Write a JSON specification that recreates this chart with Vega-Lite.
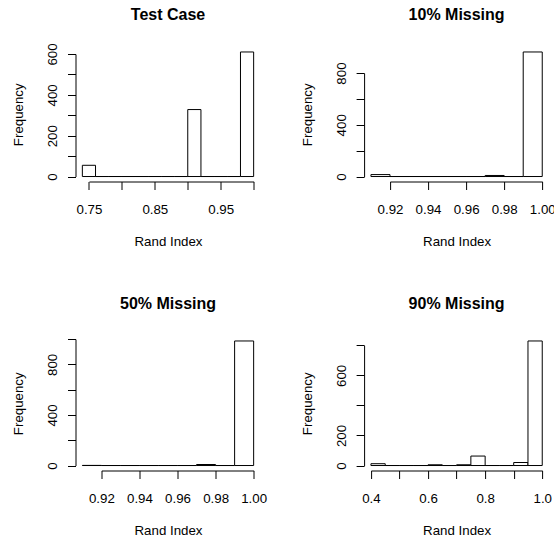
{
  "$schema": "https://vega.github.io/schema/vega-lite/v6.json",
  "background": "white",
  "autosize": {"type": "none"},
  "padding": {"left": 75.5, "top": 47, "right": 478.5, "bottom": 497},
  "datasets": {
    "hist": [
      {"panel": "Test Case", "start": 0.74, "end": 0.76, "count": 55},
      {"panel": "Test Case", "start": 0.76, "end": 0.78, "count": 0},
      {"panel": "Test Case", "start": 0.78, "end": 0.80, "count": 0},
      {"panel": "Test Case", "start": 0.80, "end": 0.82, "count": 0},
      {"panel": "Test Case", "start": 0.82, "end": 0.84, "count": 0},
      {"panel": "Test Case", "start": 0.84, "end": 0.86, "count": 0},
      {"panel": "Test Case", "start": 0.86, "end": 0.88, "count": 0},
      {"panel": "Test Case", "start": 0.88, "end": 0.90, "count": 0},
      {"panel": "Test Case", "start": 0.90, "end": 0.92, "count": 328},
      {"panel": "Test Case", "start": 0.92, "end": 0.94, "count": 0},
      {"panel": "Test Case", "start": 0.94, "end": 0.96, "count": 0},
      {"panel": "Test Case", "start": 0.96, "end": 0.98, "count": 0},
      {"panel": "Test Case", "start": 0.98, "end": 1.00, "count": 610},
      {"panel": "10% Missing", "start": 0.91, "end": 0.92, "count": 15},
      {"panel": "10% Missing", "start": 0.92, "end": 0.93, "count": 0},
      {"panel": "10% Missing", "start": 0.93, "end": 0.94, "count": 0},
      {"panel": "10% Missing", "start": 0.94, "end": 0.95, "count": 0},
      {"panel": "10% Missing", "start": 0.95, "end": 0.96, "count": 0},
      {"panel": "10% Missing", "start": 0.96, "end": 0.97, "count": 0},
      {"panel": "10% Missing", "start": 0.97, "end": 0.98, "count": 8},
      {"panel": "10% Missing", "start": 0.98, "end": 0.99, "count": 0},
      {"panel": "10% Missing", "start": 0.99, "end": 1.00, "count": 963},
      {"panel": "50% Missing", "start": 0.91, "end": 0.92, "count": 1},
      {"panel": "50% Missing", "start": 0.92, "end": 0.93, "count": 0},
      {"panel": "50% Missing", "start": 0.93, "end": 0.94, "count": 0},
      {"panel": "50% Missing", "start": 0.94, "end": 0.95, "count": 0},
      {"panel": "50% Missing", "start": 0.95, "end": 0.96, "count": 0},
      {"panel": "50% Missing", "start": 0.96, "end": 0.97, "count": 0},
      {"panel": "50% Missing", "start": 0.97, "end": 0.98, "count": 8},
      {"panel": "50% Missing", "start": 0.98, "end": 0.99, "count": 0},
      {"panel": "50% Missing", "start": 0.99, "end": 1.00, "count": 985},
      {"panel": "90% Missing", "start": 0.40, "end": 0.45, "count": 12},
      {"panel": "90% Missing", "start": 0.45, "end": 0.50, "count": 0},
      {"panel": "90% Missing", "start": 0.50, "end": 0.55, "count": 0},
      {"panel": "90% Missing", "start": 0.55, "end": 0.60, "count": 0},
      {"panel": "90% Missing", "start": 0.60, "end": 0.65, "count": 5},
      {"panel": "90% Missing", "start": 0.65, "end": 0.70, "count": 0},
      {"panel": "90% Missing", "start": 0.70, "end": 0.75, "count": 5},
      {"panel": "90% Missing", "start": 0.75, "end": 0.80, "count": 63},
      {"panel": "90% Missing", "start": 0.80, "end": 0.85, "count": 0},
      {"panel": "90% Missing", "start": 0.85, "end": 0.90, "count": 0},
      {"panel": "90% Missing", "start": 0.90, "end": 0.95, "count": 20},
      {"panel": "90% Missing", "start": 0.95, "end": 1.00, "count": 829}
    ]
  },
  "columns": 2,
  "spacing": {"row": 154, "column": 103.6},
  "bounds": "flush",
  "concat": [
    {
      "title": {"text": "Test Case", "offset": 20},
      "width": 185, "height": 134.5,
      "data": {"name": "hist"},
      "transform": [{"filter": "datum.panel === 'Test Case'"}],
      "mark": {"type": "rect", "fill": "white", "stroke": "black", "strokeWidth": 1},
      "encoding": {
        "x": {"field": "start", "type": "quantitative", "title": "Rand Index",
          "scale": {"domain": [0.7296, 1.0104], "nice": false, "zero": false},
          "axis": {"values": [0.75, 0.8, 0.85, 0.9, 0.95, 1], "labelExpr": "round(datum.value*100) % 10 == 5 ? format(datum.value, '.2f') : ''", "domainDash": [0, 13.44, 164.71, 1000]}},
        "x2": {"field": "end"},
        "y": {"field": "count", "type": "quantitative", "title": "Frequency",
          "scale": {"domain": [-24.4, 634.4], "nice": false, "zero": false},
          "axis": {"values": [0, 100, 200, 300, 400, 500, 600], "labelExpr": "datum.value % 200 == 0 ? format(datum.value, 'd') : ''", "domainDash": [0, 4.98, 122.5, 1000]}},
        "y2": {"datum": 0}
      }
    },
    {
      "title": {"text": "10% Missing", "offset": 23.6},
      "width": 185, "height": 134.5,
      "data": {"name": "hist"},
      "transform": [{"filter": "datum.panel === '10% Missing'"}],
      "mark": {"type": "rect", "fill": "white", "stroke": "black", "strokeWidth": 1},
      "encoding": {
        "x": {"field": "start", "type": "quantitative", "title": "Rand Index",
          "scale": {"domain": [0.9064, 1.0036], "nice": false, "zero": false},
          "axis": {"values": [0.92, 0.94, 0.96, 0.98, 1], "labelExpr": "format(datum.value, '.2f')", "domainDash": [0, 25.88, 152.27, 1000]}},
        "x2": {"field": "end"},
        "y": {"field": "count", "type": "quantitative", "title": "Frequency",
          "scale": {"domain": [-38.52, 1001.52], "nice": false, "zero": false},
          "axis": {"values": [0, 200, 400, 600, 800], "labelExpr": "datum.value % 400 == 0 ? format(datum.value, 'd') : ''", "domainDash": [0, 4.98, 103.46, 1000]}},
        "y2": {"datum": 0}
      }
    },
    {
      "title": {"text": "50% Missing", "offset": 23.6},
      "width": 185, "height": 134.5,
      "data": {"name": "hist"},
      "transform": [{"filter": "datum.panel === '50% Missing'"}],
      "mark": {"type": "rect", "fill": "white", "stroke": "black", "strokeWidth": 1},
      "encoding": {
        "x": {"field": "start", "type": "quantitative", "title": "Rand Index",
          "scale": {"domain": [0.9064, 1.0036], "nice": false, "zero": false},
          "axis": {"values": [0.92, 0.94, 0.96, 0.98, 1], "labelExpr": "format(datum.value, '.2f')", "domainDash": [0, 25.88, 152.27, 1000]}},
        "x2": {"field": "end"},
        "y": {"field": "count", "type": "quantitative", "title": "Frequency",
          "scale": {"domain": [-39.4, 1024.4], "nice": false, "zero": false},
          "axis": {"values": [0, 200, 400, 600, 800, 1000], "labelExpr": "datum.value % 400 == 0 && datum.value < 1000 ? format(datum.value, 'd') : ''", "domainDash": [0, 4.98, 126.43, 1000]}},
        "y2": {"datum": 0}
      }
    },
    {
      "title": {"text": "90% Missing", "offset": 23.6},
      "width": 185, "height": 134.5,
      "data": {"name": "hist"},
      "transform": [{"filter": "datum.panel === '90% Missing'"}],
      "mark": {"type": "rect", "fill": "white", "stroke": "black", "strokeWidth": 1},
      "encoding": {
        "x": {"field": "start", "type": "quantitative", "title": "Rand Index",
          "scale": {"domain": [0.376, 1.024], "nice": false, "zero": false},
          "axis": {"values": [0.4, 0.5, 0.6, 0.7, 0.8, 0.9, 1], "labelExpr": "round(datum.value*10) % 2 == 0 ? format(datum.value, '.1f') : ''", "domainDash": [0, 6.85, 171.3, 1000]}},
        "x2": {"field": "end"},
        "y": {"field": "count", "type": "quantitative", "title": "Frequency",
          "scale": {"domain": [-33.16, 862.16], "nice": false, "zero": false},
          "axis": {"values": [0, 200, 400, 600, 800], "labelExpr": "indexof([0, 200, 600], datum.value) >= 0 ? format(datum.value, 'd') : ''", "domainDash": [0, 4.98, 120.18, 1000]}},
        "y2": {"datum": 0}
      }
    }
  ],
  "config": {
    "view": {"stroke": null},
    "font": "Liberation Sans",
    "axis": {"grid": false, "domainColor": "black", "tickColor": "black", "tickSize": 8, "tickWidth": 1, "domainWidth": 1,
      "labelFont": "Liberation Sans", "labelFontSize": 13.3, "labelColor": "black", "labelOverlap": false, "labelFlush": false,
      "titleFont": "Liberation Sans", "titleFontSize": 13.3, "titleFontWeight": "normal", "titleColor": "black"},
    "axisX": {"labelAngle": 0, "labelAlign": "center", "labelBaseline": "alphabetic", "labelPadding": 23.5,
      "titleAngle": 0, "titleAlign": "center", "titleBaseline": "alphabetic", "titleX": 92.5, "titleY": 64.2},
    "axisY": {"labelAngle": -90, "labelAlign": "center", "labelBaseline": "alphabetic", "labelPadding": 11,
      "titleAngle": -90, "titleAlign": "center", "titleBaseline": "alphabetic", "titleX": -52.9, "titleY": 67.25},
    "title": {"font": "Liberation Sans", "fontSize": 16, "fontWeight": "bold", "color": "black", "anchor": "middle", "frame": "group"}
  }
}
